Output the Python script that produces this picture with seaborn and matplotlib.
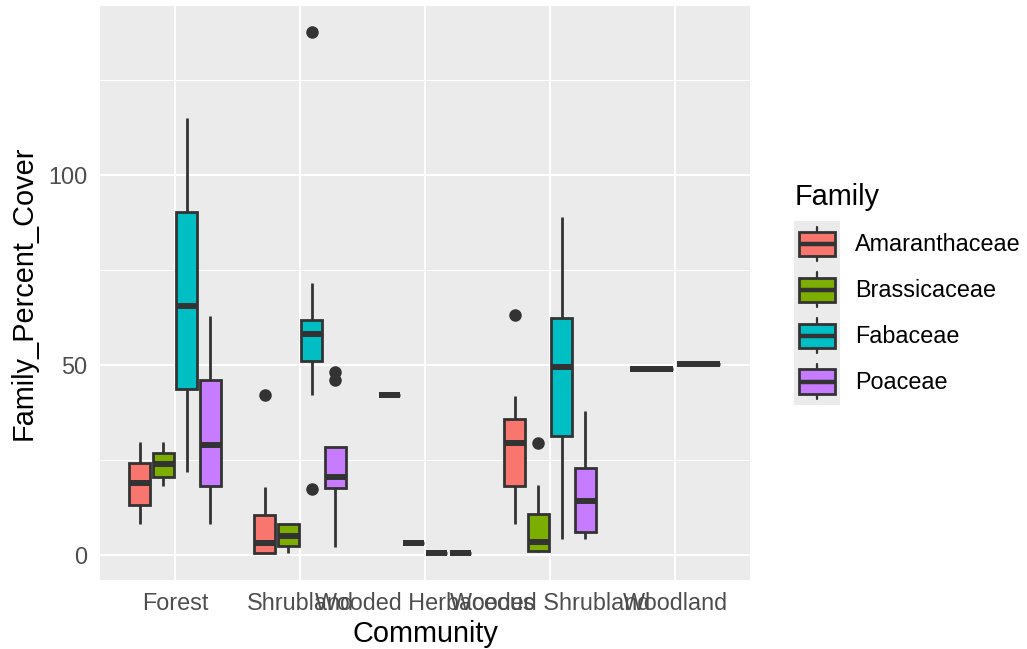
import numpy as np
import pandas as pd
import matplotlib
matplotlib.use("Agg")
import matplotlib.pyplot as plt
import seaborn as sns
from matplotlib.legend_handler import HandlerBase
from matplotlib.patches import Rectangle
from matplotlib.lines import Line2D
from matplotlib.ticker import FixedLocator

# ---------------- data ----------------
communities = ["Forest", "Shrubland", "Wooded Herbaceous", "Wooded Shrubland", "Woodland"]
families = ["Amaranthaceae", "Brassicaceae", "Fabaceae", "Poaceae"]
family_colors = ["#F8766D", "#7CAE00", "#00BFC4", "#C77CFF"]
y_ticks = [0, 50, 100]
y_minor = [25, 75, 125]

forest_amaranthaceae = [8.2, 13.3, 18.9, 24.4, 29.7]
forest_brassicaceae = [18.2, 20.7, 23.9, 26.9, 29.7]
forest_fabaceae = [21.8, 43.6, 65.6, 90.3, 114.9]
forest_poaceae = [8.2, 18.3, 29.1, 46.1, 62.9]

shrubland_amaranthaceae = [0.5, 0.6, 0.6, 1.5, 3.2, 6.0, 10.7, 18.0, 42.1]
shrubland_brassicaceae = [0.7, 2.5, 5.2, 8.2, 8.2]
shrubland_fabaceae = [17.5, 42.1, 51.1, 55.0, 58.1, 60.0, 62.0, 71.5, 137.7]
shrubland_poaceae = [2.2, 12.0, 17.8, 19.0, 20.6, 24.0, 28.5, 46.1, 48.2]

wooded_herb_amaranthaceae = [42.1]
wooded_herb_brassicaceae = [3.2]
wooded_herb_fabaceae = [0.6]
wooded_herb_poaceae = [0.6]

wooded_shrub_amaranthaceae = [8.3, 12.0, 18.2, 24.0, 29.6, 33.0, 35.9, 41.9, 63.3]
wooded_shrub_brassicaceae = [0.9, 1.0, 1.05, 2.0, 3.5, 7.0, 10.8, 18.4, 29.6]
wooded_shrub_fabaceae = [4.2, 31.5, 49.4, 62.4, 88.9]
wooded_shrub_poaceae = [4.2, 6.0, 14.3, 22.9, 38.0]

woodland_families = ["Fabaceae", "Poaceae"]
woodland_fabaceae = [49.1]
woodland_poaceae = [50.2]

groups = [
    ("Forest", "Amaranthaceae", forest_amaranthaceae),
    ("Forest", "Brassicaceae", forest_brassicaceae),
    ("Forest", "Fabaceae", forest_fabaceae),
    ("Forest", "Poaceae", forest_poaceae),
    ("Shrubland", "Amaranthaceae", shrubland_amaranthaceae),
    ("Shrubland", "Brassicaceae", shrubland_brassicaceae),
    ("Shrubland", "Fabaceae", shrubland_fabaceae),
    ("Shrubland", "Poaceae", shrubland_poaceae),
    ("Wooded Herbaceous", "Amaranthaceae", wooded_herb_amaranthaceae),
    ("Wooded Herbaceous", "Brassicaceae", wooded_herb_brassicaceae),
    ("Wooded Herbaceous", "Fabaceae", wooded_herb_fabaceae),
    ("Wooded Herbaceous", "Poaceae", wooded_herb_poaceae),
    ("Wooded Shrubland", "Amaranthaceae", wooded_shrub_amaranthaceae),
    ("Wooded Shrubland", "Brassicaceae", wooded_shrub_brassicaceae),
    ("Wooded Shrubland", "Fabaceae", wooded_shrub_fabaceae),
    ("Wooded Shrubland", "Poaceae", wooded_shrub_poaceae),
]
wood_groups = [
    ("Woodland", "Fabaceae", woodland_fabaceae),
    ("Woodland", "Poaceae", woodland_poaceae),
]

def to_df(gs):
    rows = []
    for comm, fam, vals in gs:
        for v in vals:
            rows.append({"Community": comm, "Family": fam, "Family_Percent_Cover": v})
    return pd.DataFrame(rows)

df_main = to_df(groups)
df_wood = to_df(wood_groups)
palette = dict(zip(families, family_colors))

# ---------------- style ----------------
sns.set_theme(style="darkgrid", rc={
    "axes.facecolor": "#EBEBEB",
    "grid.color": "white",
    "figure.facecolor": "white",
})
plt.rcParams["font.family"] = ["Liberation Sans", "DejaVu Sans"]

TICK_FS = 16.8
TITLE_FS = 20.8

W, H = 1027, 649
fig = plt.figure(figsize=(W / 100, H / 100), dpi=100)
ax = fig.add_axes([100 / W, (H - 579.5) / H, 650 / W, 574 / H])

LINE = "#333333"
box_kws = dict(
    x="Community", y="Family_Percent_Cover", hue="Family",
    order=communities, dodge=True, width=0.75, gap=0.1,
    saturation=1, linecolor=LINE, linewidth=2.0, whis=1.5,
    fliersize=8, showcaps=False,
    medianprops={"linewidth": 4.3},
    flierprops={"marker": "o", "markerfacecolor": LINE, "markeredgecolor": LINE},
    legend=False, ax=ax,
)
sns.boxplot(data=df_main, hue_order=families, palette=palette, **box_kws)
sns.boxplot(data=df_wood, hue_order=woodland_families,
            palette={f: palette[f] for f in woodland_families}, **box_kws)

ax.set_xlim(-0.6, len(communities) - 0.4)
ax.set_ylim(-6.36, 144.56)
ax.yaxis.set_major_locator(FixedLocator(y_ticks))
ax.yaxis.set_minor_locator(FixedLocator(y_minor))
ax.grid(True, which="major", axis="both", color="white", linewidth=1.5)
ax.grid(True, which="minor", axis="y", color="white", linewidth=0.75)
ax.set_axisbelow(True)
for s in ax.spines.values():
    s.set_visible(False)

ax.tick_params(axis="both", which="major", length=4.3, width=1.0, color=LINE,
               labelsize=TICK_FS, labelcolor="#4D4D4D")
ax.tick_params(axis="x", pad=4.5)
ax.tick_params(axis="y", pad=5.0)
ax.tick_params(which="minor", length=0)
ax.set_xlabel("Community", fontsize=TITLE_FS, color="black", labelpad=4)
ax.set_ylabel("Family_Percent_Cover", fontsize=TITLE_FS, color="black", labelpad=7)

# ---------------- legend ----------------
class BoxKeyHandler(HandlerBase):
    def create_artists(self, legend, orig_handle, xdescent, ydescent,
                       width, height, fontsize, trans):
        x0, y0 = -xdescent, -ydescent
        bg = Rectangle((x0, y0), width, height, facecolor="#EBEBEB",
                       edgecolor="none", transform=trans)
        bw, bh = width * 0.78, height * 0.54
        bx, by = x0 + (width - bw) / 2, y0 + (height - bh) / 2
        cx, cy = x0 + width / 2, y0 + height / 2
        wl1 = Line2D([cx, cx], [y0 + height * 0.12, by], color=LINE, lw=1.6, transform=trans)
        wl2 = Line2D([cx, cx], [by + bh, y0 + height * 0.88], color=LINE, lw=1.6, transform=trans)
        box = Rectangle((bx, by), bw, bh, facecolor=orig_handle.get_facecolor(),
                        edgecolor=LINE, lw=2.0, transform=trans)
        med = Line2D([bx, bx + bw], [cy, cy], color=LINE, lw=3.2,
                     solid_capstyle="butt", transform=trans)
        return [bg, wl1, wl2, box, med]

# key box of 33.1 pt square
hl = 33.1 / TICK_FS
hh = (33.1 / TICK_FS - 0.245) / 0.65
handles = [Rectangle((0, 0), 1, 1, facecolor=c) for c in family_colors]
leg = fig.legend(handles, families, loc="upper left",
                 bbox_to_anchor=(794 / W, 1 - 221 / H), bbox_transform=fig.transFigure,
                 frameon=False, fontsize=TICK_FS, handlelength=hl, handleheight=hh,
                 labelspacing=0, handletextpad=10.8 / TICK_FS, borderpad=0, borderaxespad=0,
                 handler_map={h: BoxKeyHandler() for h in handles})
for t in leg.get_texts():
    t.set_color("black")
fig.text(795 / W, 1 - 205 / H, "Family", fontsize=TITLE_FS, color="black",
         ha="left", va="baseline")

fig.savefig("out.png", dpi=100)
